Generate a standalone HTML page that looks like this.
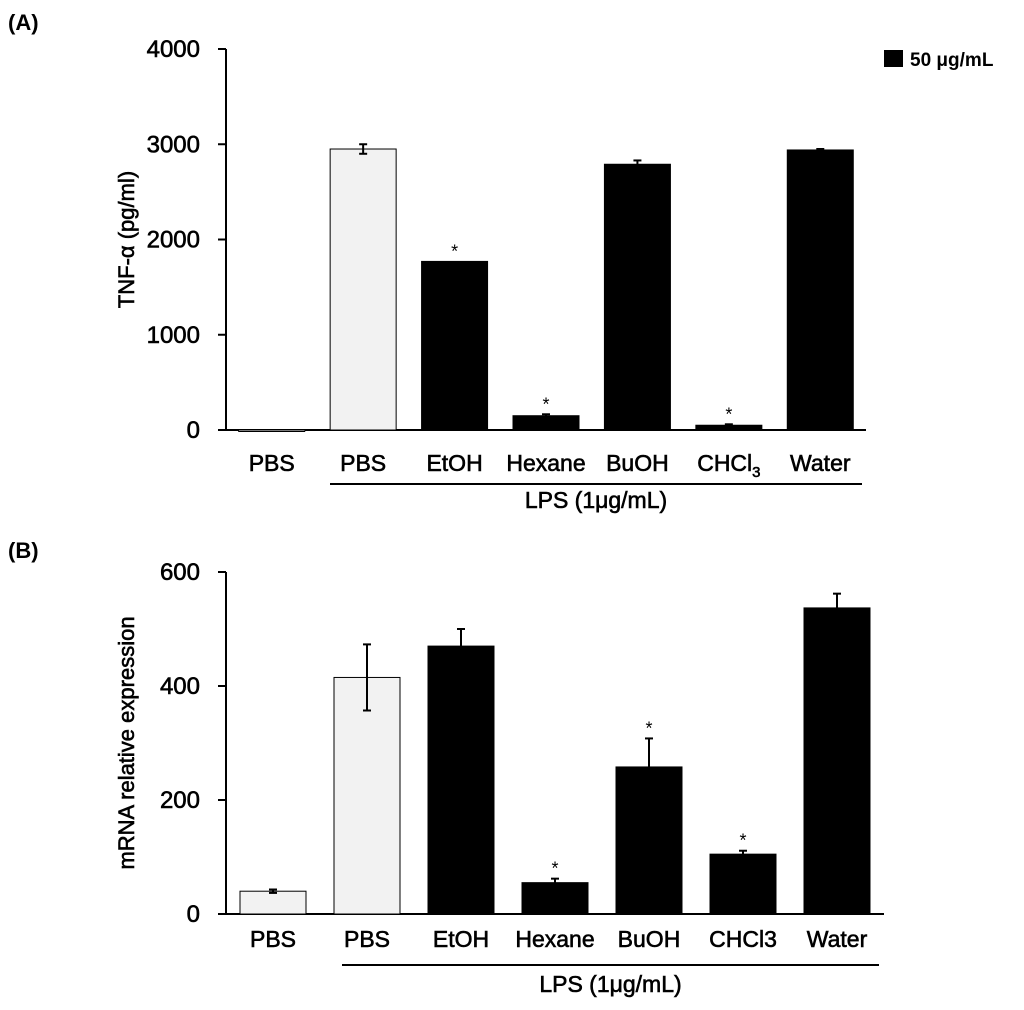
<!DOCTYPE html>
<html><head><meta charset="utf-8"><style>
body{margin:0;background:#fff;}
svg{display:block;font-family:"Liberation Sans",Arial,sans-serif;}
text{fill:#000;stroke:#000;stroke-width:0.6px;}
text.b{stroke-width:0;}
</style></head><body>
<svg id="fig" width="1024" height="1010" viewBox="0 0 1024 1010">
<text class="b" x="8" y="30" font-size="22" font-weight="bold">(A)</text>
<text class="b" x="8" y="558" font-size="22" font-weight="bold">(B)</text>
<rect x="884" y="50" width="19" height="17" fill="#000"/>
<text class="b" x="910" y="66" font-size="19" font-weight="bold">50 μg/mL</text>
<g id="gA"></g>
<g id="gB"></g>
</svg>
<script>
const catsA = ["PBS","PBS","EtOH","Hexane","BuOH","CHCl3","Water"];
const valsA = [0,2950,1770,150,2790,50,2940];
const errA = [0,50,0,15,40,10,10];
const starA = [false,false,true,true,false,true,false];
const ticksA = [0,1000,2000,3000,4000];
const catsB = ["PBS","PBS","EtOH","Hexane","BuOH","CHCl3","Water"];
const valsB = [40,415,470,55,258,105,537];
const errB = [3,58,30,7,50,6,25];
const starB = [false,false,false,true,true,true,false];
const ticksB = [0,200,400,600];
const NS="http://www.w3.org/2000/svg";
function mk(p,t,a){const e=document.createElementNS(NS,t);for(const k in a)e.setAttribute(k,a[k]);p.appendChild(e);return e;}
function draw(g,cfg){
  const {x0,x1,y0,yTop,max,cats,vals,errs,stars,ticks,title,lx0,lx1,lblY,lineY,lpsY,sub,titleX}=cfg;
  const band=(x1-x0)/cats.length, bw=66;
  const ys=v=>y0-(v/max)*(y0-yTop);
  const xs=i=>x0+band*(i+0.5);
  let e=mk(g,'line',{x1:x0,y1:yTop,x2:x0,y2:y0,stroke:'#000','stroke-width':2});
  
  
  e=mk(g,'line',{x1:x0-8,y1:y0,x2:x1,y2:y0,stroke:'#000','stroke-width':2});
  
  
  ticks.forEach(t=>{
    mk(g,'line',{x1:x0-8,y1:ys(t),x2:x0,y2:ys(t),stroke:'#000','stroke-width':2});
    const tx=mk(g,'text',{x:x0-26,y:ys(t)+8,'font-size':24,'text-anchor':'end'});
    tx.textContent=t;
    
    
  });
  cats.forEach((c,i)=>{
    const v=vals[i], cx=xs(i), top=ys(v);
    const light=i<2;
    const r=mk(g,'rect',{x:cx-bw/2,y:top,width:bw,height:Math.max(y0-top,1.5),fill:light?'#f2f2f2':'#000',stroke:'#000','stroke-width':1});
    
    
    if(errs[i]>0){
      const eTop=ys(v+errs[i]), eBot=light?ys(v-errs[i]):top;
      const eg=mk(g,'g',{stroke:'#000','stroke-width':2});
      
      
      mk(eg,'line',{x1:cx,y1:eTop,x2:cx,y2:eBot});
      mk(eg,'line',{x1:cx-4,y1:eTop,x2:cx+4,y2:eTop});
      if(light) mk(eg,'line',{x1:cx-4,y1:eBot,x2:cx+4,y2:eBot});
    }
    if(stars[i]){
      const s=mk(g,'text',{x:cx,y:ys(v+errs[i])-4,'font-size':18,'text-anchor':'middle',fill:'#333',class:'b'});
      s.textContent='*';
      
      
    }
    const lb=mk(g,'text',{x:cx,y:lblY,'font-size':23,'text-anchor':'middle'});
    if(sub && c==='CHCl3'){lb.textContent='CHCl';const ts=mk(lb,'tspan',{'font-size':15,dy:6});ts.textContent='3';}
    else lb.textContent=c;
    
    
  });
  e=mk(g,'line',{x1:lx0,y1:lineY,x2:lx1,y2:lineY,stroke:'#000','stroke-width':2});
  
  
  e=mk(g,'text',{x:(lx0+lx1)/2,y:lpsY,'font-size':23,'text-anchor':'middle'});
  e.textContent='LPS (1μg/mL)';
  
  
  const my=(y0+yTop)/2;
  e=mk(g,'text',{x:0,y:0,'font-size':22,'text-anchor':'middle',transform:`translate(${titleX},${my}) rotate(-90)`});
  e.textContent=title;
  
  
}
draw(document.getElementById('gA'),{x0:226,x1:866,y0:430,yTop:49,max:4000,cats:catsA,vals:valsA,errs:errA,stars:starA,ticks:ticksA,title:'TNF-α (pg/ml)',lx0:330,lx1:862,lblY:471,lineY:484,lpsY:508,sub:true,titleX:134});
draw(document.getElementById('gB'),{x0:226,x1:884,y0:914,yTop:572,max:600,cats:catsB,vals:valsB,errs:errB,stars:starB,ticks:ticksB,title:'mRNA relative expression',lx0:342,lx1:879,lblY:947,lineY:965,lpsY:992,sub:false,titleX:134});
</script>
</body></html>
